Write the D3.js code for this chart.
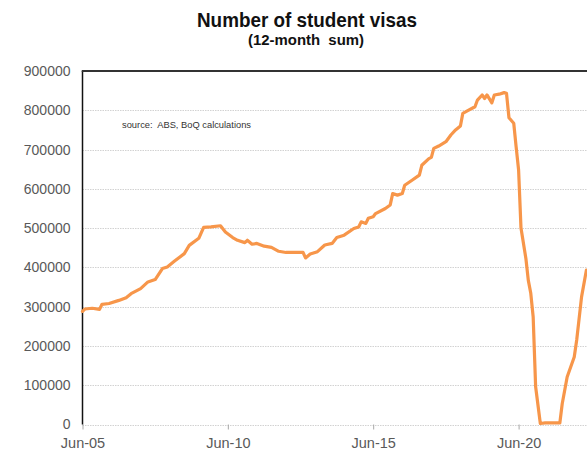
<!DOCTYPE html>
<html>
<head>
<meta charset="utf-8">
<script src="https://cdn.jsdelivr.net/npm/d3@7/dist/d3.min.js"></script>
<style>
  html, body { margin: 0; padding: 0; background: #fff; }
  svg { display: block; font-family: "Liberation Sans", Arial, sans-serif; }
</style>
</head>
<body>
<svg id="chart" width="587" height="457"></svg>
<script>
// Student visas granted, 12-month rolling sum
const months = [
  "2005-06","2005-07","2005-10","2006-01","2006-02","2006-05","2006-09","2006-12",
  "2007-02","2007-06","2007-09","2007-12","2008-03","2008-05","2008-08","2008-12",
  "2009-02","2009-06","2009-08","2009-11","2010-03","2010-05","2010-08","2010-10",
  "2011-01","2011-02","2011-04","2011-06","2011-09","2011-12","2012-03","2012-06",
  "2013-01","2013-02","2013-04","2013-07","2013-10","2014-01","2014-03","2014-06",
  "2014-10","2014-12","2015-01","2015-03","2015-04","2015-06","2015-07","2015-11",
  "2016-01","2016-02","2016-04","2016-06","2016-07","2016-10","2017-01","2017-02",
  "2017-05","2017-06","2017-07","2017-09","2017-12","2018-02","2018-04","2018-06",
  "2018-07","2018-09","2018-12","2019-01","2019-03","2019-04","2019-05","2019-07",
  "2019-08","2019-10","2019-12","2020-01","2020-02","2020-04","2020-05","2020-06",
  "2020-07","2020-09","2020-10","2020-11","2020-12","2021-01","2021-03","2021-05",
  "2021-11","2021-12","2022-02","2022-05","2022-06","2022-08","2022-10"
];
const visas = [
  288000, 294000, 296000, 293000, 306000, 308000, 316000, 323000,
  333000, 346000, 363000, 369000, 397000, 401000, 416000, 435000,
  456000, 474000, 502000, 503000, 506000, 490000, 476000, 469000,
  463000, 469000, 459000, 461000, 454000, 451000, 441000, 438000,
  438000, 424000, 434000, 440000, 457000, 461000, 476000, 482000,
  499000, 503000, 516000, 512000, 525000, 529000, 537000, 550000,
  559000, 588000, 584000, 588000, 609000, 622000, 635000, 660000,
  677000, 680000, 703000, 709000, 720000, 737000, 750000, 760000,
  792000, 799000, 809000, 826000, 839000, 830000, 839000, 819000,
  839000, 841000, 845000, 843000, 781000, 767000, 707000, 648000,
  500000, 422000, 367000, 334000, 274000, 96000, 2500, 4000,
  4000, 53000, 121000, 172000, 215000, 325000, 393000
];
const yTicks = [0, 100000, 200000, 300000, 400000, 500000, 600000, 700000, 800000, 900000];
const xTickMonths = ["2005-06", "2010-06", "2015-06", "2020-06"];

const title = "Number of student visas";
const subtitle = "(12-month  sum)";
const sourceNote = "source:  ABS, BoQ calculations";

const parse = d3.utcParse("%Y-%m");
const series = months.map((m, i) => ({ date: parse(m), value: visas[i] }));

const svg = d3.select("#chart");
const W = 587;
const plotLeft = 82.5, plotTop = 71, plotBottom = 424.5;

const x = d3.scaleUtc()
  .domain([parse("2005-06"), parse("2020-06")])
  .range([plotLeft, 518.6]);
const y = d3.scaleLinear()
  .domain([0, 900000])
  .range([plotBottom, plotTop]);

// Titles
svg.append("text")
  .attr("x", 307).attr("y", 27)
  .attr("text-anchor", "middle")
  .attr("font-size", 20.5).attr("font-weight", "bold").attr("fill", "#111")
  .attr("textLength", 220).attr("lengthAdjust", "spacingAndGlyphs")
  .text(title);
svg.append("text")
  .attr("x", 306).attr("y", 45)
  .attr("text-anchor", "middle")
  .attr("font-size", 14).attr("font-weight", "bold").attr("fill", "#111")
  .attr("textLength", 116).attr("lengthAdjust", "spacingAndGlyphs")
  .style("white-space", "pre")
  .text(subtitle);

// Horizontal gridlines (dotted), including the zero baseline
svg.append("g")
  .selectAll("line")
  .data(yTicks.filter(v => v < 900000))
  .join("line")
  .attr("x1", plotLeft).attr("x2", W)
  .attr("y1", d => Math.round(y(d)) + 0.5).attr("y2", d => Math.round(y(d)) + 0.5)
  .attr("stroke", "#d2d2d2").attr("stroke-width", 1)
  .attr("stroke-dasharray", "1.5,1");

// Y axis labels
const yAxis = d3.axisLeft(y).tickValues(yTicks).tickSize(0).tickPadding(12)
  .tickFormat(d3.format("d"));
const gy = svg.append("g").attr("transform", `translate(${plotLeft},0)`).call(yAxis);
gy.select(".domain").remove();
gy.selectAll("text")
  .attr("font-size", 14).attr("fill", "#595959")
  .attr("font-family", "'Liberation Sans', Arial, sans-serif");

// X axis labels and ticks
const xAxis = d3.axisBottom(x)
  .tickValues(xTickMonths.map(parse))
  .tickSize(5).tickPadding(8)
  .tickFormat(d3.utcFormat("%b-%y"));
const gx = svg.append("g").attr("transform", `translate(0,${plotBottom})`).call(xAxis);
gx.select(".domain").remove();
gx.selectAll(".tick line").attr("stroke", "#a8a8a8");
gx.selectAll("text")
  .attr("font-size", 14.5).attr("fill", "#595959")
  .attr("font-family", "'Liberation Sans', Arial, sans-serif");

// Plot frame: left axis and top border
svg.append("line")
  .attr("x1", plotLeft).attr("x2", plotLeft).attr("y1", plotTop).attr("y2", plotBottom)
  .attr("stroke", "#111").attr("stroke-width", 1.5);
svg.append("line")
  .attr("x1", plotLeft - 0.75).attr("x2", W).attr("y1", plotTop).attr("y2", plotTop)
  .attr("stroke", "#333").attr("stroke-width", 2);

// Source note
svg.append("text")
  .attr("x", 122).attr("y", 127.5)
  .attr("font-size", 9).attr("fill", "#333")
  .attr("textLength", 129).attr("lengthAdjust", "spacingAndGlyphs")
  .style("white-space", "pre")
  .text(sourceNote);

// Series line
const line = d3.line()
  .x(d => x(d.date))
  .y(d => y(d.value));
svg.append("path")
  .datum(series)
  .attr("d", line)
  .attr("fill", "none")
  .attr("stroke", "#F7964A")
  .attr("stroke-width", 3.2)
  .attr("stroke-linejoin", "round")
  .attr("stroke-linecap", "round");
</script>
</body>
</html>
